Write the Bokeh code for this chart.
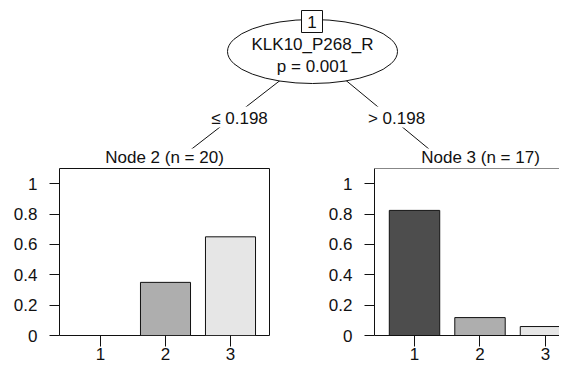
from bokeh.plotting import figure
from bokeh.layouts import column, row
from bokeh.models import Range1d, FixedTicker, Span
from bokeh.core.properties import value
from bokeh.embed import file_html
from bokeh.resources import INLINE

# ---------------- data ----------------
split_variable = "KLK10_P268_R"
split_pvalue = "p = 0.001"
root_id = "1"
split_labels = ["\u2264 0.198", "> 0.198"]
node_ids = [2, 3]
node_sizes = [20, 17]
classes = ["1", "2", "3"]
node2_props = [0.0, 0.35, 0.65]
node3_props = [0.824, 0.118, 0.059]
y_ticks = [0, 0.2, 0.4, 0.6, 0.8, 1.0]
y_tick_labels = ["0", "0.2", "0.4", "0.6", "0.8", "1"]
bar_colors = ["#4D4D4D", "#AEAEAE", "#E6E6E6"]

FONT = "Liberation Sans"
FS = "17px"
INK = "#111111"

# ---------------- tree (top) ----------------
TOP_H = 167
top = figure(width=559, height=TOP_H, x_range=Range1d(0, 559), y_range=Range1d(TOP_H, 0),
             output_backend="svg", toolbar_location=None, x_axis_type=None, y_axis_type=None,
             min_border=0, outline_line_color=None)
top.grid.visible = False

parent = (313.6, 53.6)
children = [(142.8, 186.0), (473.8, 186.0)]
top.segment(x0=[parent[0]] * 2, y0=[parent[1]] * 2,
            x1=[c[0] for c in children], y1=[c[1] for c in children],
            line_color=INK, line_width=1)

label_x = [239, 396]
top.rect(x=label_x, y=[116.5, 116.5], width=[60, 62], height=[21, 21],
         fill_color="white", line_color=None)
top.text(x=label_x, y=[118, 118], text=split_labels, text_align="center", text_baseline="middle",
         text_font=value(FONT), text_font_size=FS, text_color=INK)

# terminal panel backgrounds hide the edges below
top.quad(left=[0, 292], right=[292, 559], top=[148, 148], bottom=[TOP_H, TOP_H],
         fill_color="white", line_color=None)

top.ellipse(x=312, y=51, width=170, height=64, fill_color="white", line_color=INK, line_width=1)
top.rect(x=311.5, y=21, width=21, height=22, fill_color="white", line_color=INK, line_width=1)
top.text(x=[311.5], y=[21.5], text=[root_id], text_align="center", text_baseline="middle",
         text_font=value(FONT), text_font_size=FS, text_color=INK)
top.text(x=[312, 312], y=[43.5, 66], text=[split_variable, split_pvalue],
         text_align="center", text_baseline="middle",
         text_font=value(FONT), text_font_size=FS, text_color=INK)

titles = [f"Node {i} (n = {n})" for i, n in zip(node_ids, node_sizes)]
top.text(x=[164, 480], y=[157, 157], text=titles, text_align="center", text_baseline="middle",
         text_font=value(FONT), text_font_size=FS, text_color=INK)

# ---------------- terminal bar panels ----------------
xs = list(range(1, len(classes) + 1))
PANEL_H = 362 - TOP_H


def panel(props, width, b_left, b_right, x_start, x_end, outline):
    p = figure(width=width, height=PANEL_H, x_range=Range1d(x_start, x_end), y_range=Range1d(0, 1.1),
               output_backend="svg", toolbar_location=None,
               min_border_left=b_left, min_border_right=b_right,
               min_border_top=1, min_border_bottom=27)
    p.vbar(x=xs, top=props, bottom=0, width=0.77, fill_color=bar_colors,
           line_color=INK, line_width=1)
    p.grid.visible = False
    p.outline_line_color = INK if outline else None
    p.outline_line_alpha = 1
    p.yaxis.ticker = FixedTicker(ticks=y_ticks)
    p.yaxis.major_label_overrides = dict(zip(y_ticks, y_tick_labels))
    p.xaxis.ticker = FixedTicker(ticks=xs)
    p.xaxis.major_label_overrides = dict(zip(xs, classes))
    for ax in (p.xaxis, p.yaxis):
        ax.major_tick_line_color = INK
        ax.major_tick_in = 0
        ax.minor_tick_line_color = None
        ax.axis_line_color = None if outline else INK
        ax.major_label_text_font = FONT
        ax.major_label_text_font_size = FS
        ax.major_label_text_color = INK
    p.yaxis.major_tick_out = 10
    p.yaxis.major_label_standoff = 12
    p.xaxis.major_tick_out = 11
    p.xaxis.major_label_standoff = 1
    p.xaxis.major_label_text_line_height = 0.2
    if not outline:
        p.add_layout(Span(location=1.1, dimension="width", line_color=INK, line_width=1))
    return p


left = panel(node2_props, 292, 59, 23, 0.369, 3.6, True)
right = panel(node3_props, 267, 82, 0, 0.389, 3.214, False)

layout = column(top, row(left, right, spacing=0), spacing=0)

open("out.html", "w").write(file_html(layout, INLINE))
